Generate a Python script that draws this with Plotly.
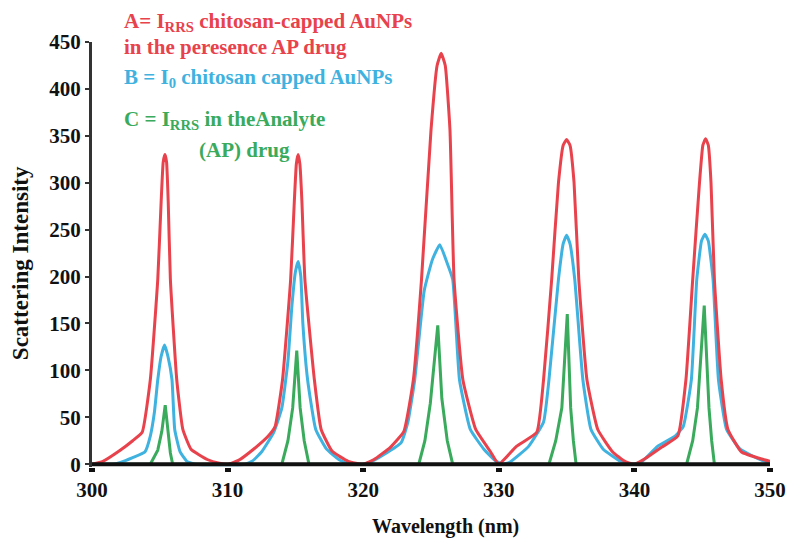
import plotly.graph_objects as go

# ---- data (wavelength in nm, scattering intensity) ----
red_x = [300.0, 300.8, 302.0, 303.0, 303.7, 304.3, 304.85, 305.1, 305.25, 305.38, 305.5, 305.62, 305.78, 306.25, 306.7, 307.3, 308.5, 309.4, 310.0,
         310.8, 312.0, 313.0, 313.5, 314.05, 314.65, 314.92, 315.07, 315.2, 315.33, 315.48, 315.7, 316.4, 316.9, 317.7, 318.9, 320.0,
         320.8, 322.0, 323.0, 323.7, 324.3, 325.0, 325.45, 325.75, 326.05, 326.4, 326.7, 327.35, 328.3, 329.4, 330.0,
         331.3, 332.8, 333.3, 333.9, 334.4, 334.75, 335.0, 335.25, 335.55, 335.9, 336.5, 337.3, 338.4, 339.3, 340.0,
         340.8, 342.0, 343.2, 343.8, 344.3, 344.8, 345.05, 345.25, 345.45, 345.65, 345.9, 346.4, 346.9, 347.9, 349.5, 350.0]
red_y = [0, 3, 14, 25, 34, 90, 197, 280, 322, 330, 322, 280, 197, 90, 37, 16, 5, 1, 0,
         4, 17, 30, 40, 90, 197, 280, 320, 330, 320, 280, 197, 90, 37, 14, 3, 0,
         5, 18, 35, 90, 197, 356, 425, 438, 425, 356, 197, 90, 37, 13, 0,
         19, 34, 90, 197, 300, 340, 346, 340, 300, 197, 90, 37, 13, 3, 0,
         6, 18, 30, 90, 197, 300, 340, 347, 340, 300, 197, 90, 37, 13, 5, 3]

blue_x = [300.0, 301.5, 302.1, 303.0, 303.9, 304.3, 304.6, 304.85, 305.1, 305.35, 305.6, 305.9, 306.1, 306.5, 307.0, 307.6,
          311.3, 311.8, 312.5, 313.4, 314.0, 314.45, 314.75, 315.0, 315.2, 315.4, 315.55, 315.9, 316.5, 317.3, 318.2, 318.9,
          320.0, 320.5, 321.5, 322.8, 323.3, 323.8, 324.5, 325.1, 325.65, 326.15, 326.6, 327.1, 327.9, 328.9, 329.8, 330.3,
          330.8, 332.2, 333.3, 333.7, 334.4, 334.75, 335.0, 335.25, 335.6, 336.2, 336.8, 337.7, 339.0, 339.8,
          340.5, 341.7, 343.0, 343.6, 344.2, 344.6, 344.95, 345.2, 345.45, 345.8, 346.2, 346.8, 347.8, 349.4, 350.0]
blue_y = [0, 0, 2, 7, 13, 30, 55, 90, 115, 127, 115, 90, 37, 13, 3, 0,
          0, 3, 13, 34, 60, 110, 170, 205, 216, 200, 150, 90, 37, 16, 5, 0,
          0, 2, 10, 23, 45, 90, 185, 218, 234, 216, 197, 90, 37, 16, 3, 0,
          2, 19, 45, 90, 197, 235, 244, 235, 197, 90, 37, 16, 3, 0,
          2, 19, 30, 40, 90, 197, 238, 245, 238, 197, 90, 37, 16, 4, 2]

green_x = [300.0, 304.3, 304.85, 305.15, 305.4, 305.6, 305.78, 305.95,
           314.0, 314.45, 314.8, 315.1, 315.35, 315.65, 316.0,
           324.1, 324.55, 324.95, 325.5, 325.8, 326.2, 326.6,
           333.7, 334.2, 334.65, 335.05, 335.3, 335.5, 335.7,
           343.85, 344.3, 344.65, 345.15, 345.5, 345.7, 345.9, 350.0]
green_y = [0, 0, 15, 35, 63, 35, 12, 0,
           0, 25, 60, 121, 60, 25, 0,
           0, 25, 65, 148, 70, 25, 0,
           0, 25, 60, 160, 60, 25, 0,
           0, 25, 60, 169, 60, 25, 0, 0]

x_ticks = [300, 310, 320, 330, 340, 350]
y_ticks = [0, 50, 100, 150, 200, 250, 300, 350, 400, 450]

RED = "#e8424c"
BLUE = "#3fb2e0"
GREEN = "#3aaa5c"
FONT = "Liberation Serif"

fig = go.Figure()
fig.add_trace(go.Scatter(x=blue_x, y=blue_y, mode="lines",
                         line=dict(color=BLUE, width=3, shape="spline", smoothing=0.4), name="B"))
fig.add_trace(go.Scatter(x=green_x, y=green_y, mode="lines",
                         line=dict(color=GREEN, width=3), name="C"))
fig.add_trace(go.Scatter(x=red_x, y=red_y, mode="lines",
                         line=dict(color=RED, width=3, shape="spline", smoothing=0.4), name="A"))

fig.update_layout(
    width=798, height=540,
    margin=dict(l=92, r=20, t=42, b=73),
    plot_bgcolor="white", paper_bgcolor="white",
    showlegend=False,
    font=dict(family=FONT, color="#111"),
)
# heavy baseline at zero, drawn over the curves
fig.add_shape(type="line", xref="x", yref="y", x0=x_ticks[0], x1=x_ticks[-1], y0=0, y1=0,
              line=dict(color="#111", width=4), layer="above")
fig.update_xaxes(
    range=[300, 350], tickvals=x_ticks, showgrid=False,
    zeroline=False, showline=False,
    ticks="outside", ticklen=4, tickwidth=6, tickcolor="#111",
    tickfont=dict(family=FONT, size=21, weight="bold", color="#111"),
)
fig.update_yaxes(
    range=[-3, 450], tickvals=y_ticks, showgrid=False, zeroline=False,
    showline=True, linecolor="#333", linewidth=3, layer="above traces",
    ticks="outside", ticklen=4, tickwidth=2, tickcolor="#333",
    tickfont=dict(family=FONT, size=21, weight="bold", color="#111"),
)

def ann(text, x, y, color, size=21, **kw):
    fig.add_annotation(text=text, x=x, y=y, xref="paper", yref="paper",
                       showarrow=False, font=dict(family=FONT, size=size, color=color, weight="bold"), **kw)

ann("Wavelength (nm)", 0.522, -0.139, "#111", size=20, xanchor="center", yanchor="middle")
ann("Scattering Intensity", -0.106, 0.48, "#111", size=23, xanchor="center", yanchor="middle", textangle=-90)

ann("A= I<sub>RRS</sub> chitosan-capped AuNPs", 0.0437, 1.047, RED, xanchor="left", yanchor="middle")
ann("in the peresence AP drug", 0.0437, 0.988, RED, xanchor="left", yanchor="middle")
ann("B = I<sub>0</sub> chitosan capped AuNPs", 0.0437, 0.915, BLUE, xanchor="left", yanchor="middle")
ann("C = I<sub>RRS</sub> in theAnalyte", 0.0437, 0.816, GREEN, xanchor="left", yanchor="middle")
ann("(AP) drug", 0.1545, 0.745, GREEN, xanchor="left", yanchor="middle")

fig.write_html("out.html")
